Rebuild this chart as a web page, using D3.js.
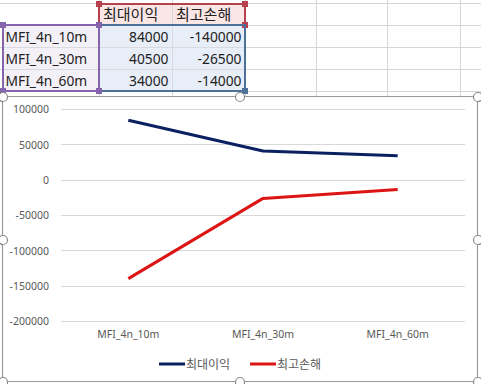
<!DOCTYPE html>
<html><head><meta charset="utf-8">
<script src="https://cdn.jsdelivr.net/npm/d3@7"></script>
<style>
html,body{margin:0;padding:0;background:#fff;}
svg{display:block;}
</style></head>
<body>
<svg id="c" width="481" height="384"></svg>
<script>
const categories = ["MFI_4n_10m", "MFI_4n_30m", "MFI_4n_60m"];
const seriesNames = ["최대이익", "최고손해"];
const maxProfit = [84000, 40500, 34000];
const maxLoss = [-140000, -26500, -14000];
const yTicks = [-200000, -150000, -100000, -50000, 0, 50000, 100000];
const colors = ["#0b2060", "#dc1414"];

const svg = d3.select("#c");
const fontLat = "'Noto Sans', 'Noto Sans CJK KR', sans-serif";
const fontKr = "'Noto Sans CJK KR', 'Noto Sans', sans-serif";

// ---- spreadsheet grid ----
const colX = [0, 99, 172, 245, 316, 387, 460, 481];
const rowY = [-19, 3, 25, 47, 69, 91];
const grid = svg.append("g");
colX.slice(1, -1).forEach(x => grid.append("line").attr("x1", x + 0.5).attr("x2", x + 0.5).attr("y1", 0).attr("y2", 97).attr("stroke", "#d6d6d6"));
rowY.slice(1).forEach(y => grid.append("line").attr("x1", 0).attr("x2", 481).attr("y1", y + 0.5).attr("y2", y + 0.5).attr("stroke", "#d6d6d6"));

// cell fills
svg.append("rect").attr("x", 99).attr("y", 3).attr("width", 146).attr("height", 22).attr("fill", "#fbe6e6");
svg.append("rect").attr("x", 2).attr("y", 25).attr("width", 97).attr("height", 66).attr("fill", "#f4f0f8");
svg.append("rect").attr("x", 99).attr("y", 25).attr("width", 146).attr("height", 66).attr("fill", "#e7eef8");
[172].forEach(x => svg.append("line").attr("x1", x + 0.5).attr("x2", x + 0.5).attr("y1", 3).attr("y2", 91).attr("stroke", "#d9d9e0"));
[47, 69].forEach(y => svg.append("line").attr("x1", 2).attr("x2", 245).attr("y1", y + 0.5).attr("y2", y + 0.5).attr("stroke", "#d9d9e0"));

// header text
seriesNames.forEach((s, i) => {
  svg.append("text").attr("x", 103 + i * 73).attr("y", 20).attr("font-family", fontKr).attr("font-size", 15).attr("fill", "#222").text(s);
});
categories.forEach((c, i) => {
  svg.append("text").attr("x", 5.5).attr("y", 42 + i * 22).attr("font-family", fontLat).attr("font-size", 13.8).attr("fill", "#222").text(c);
  svg.append("text").attr("x", 168.5).attr("y", 42 + i * 22).attr("text-anchor", "end").attr("font-family", fontLat).attr("font-size", 13.8).attr("fill", "#222").text(maxProfit[i]);
  svg.append("text").attr("x", 241.5).attr("y", 42 + i * 22).attr("text-anchor", "end").attr("font-family", fontLat).attr("font-size", 13.8).attr("fill", "#222").text(maxLoss[i]);
});

// range-finder borders
function rangeBox(x, y, w, h, col, corners) {
  svg.append("rect").attr("x", x).attr("y", y).attr("width", w).attr("height", h).attr("fill", "none").attr("stroke", col).attr("stroke-width", 2);
  corners.forEach(([cx, cy]) => svg.append("rect").attr("x", cx - 3).attr("y", cy - 3).attr("width", 6).attr("height", 6).attr("fill", col));
}
rangeBox(99, 4, 146, 21, "#b5414e", [[99, 4], [245, 4], [99, 25], [245, 25]]);
rangeBox(99, 25, 146, 66, "#4d7098", [[245, 91]]);
rangeBox(3, 25, 96, 66, "#8465ad", [[3, 25], [99, 25], [3, 91], [99, 91]]);

// ---- chart ----
const chart = svg.append("g");
chart.append("rect").attr("x", 2.5).attr("y", 96.5).attr("width", 475).attr("height", 285).attr("rx", 3).attr("fill", "#fff").attr("stroke", "#9a9a9a").attr("stroke-width", 1.2);

const x = d3.scaleBand().domain(categories).range([61, 465]);
const y = d3.scaleLinear().domain([-200000, 100000]).range([321, 109]);

chart.append("g").selectAll("line").data(yTicks).join("line")
  .attr("x1", 61).attr("x2", 465)
  .attr("y1", d => Math.round(y(d)) + 0.5).attr("y2", d => Math.round(y(d)) + 0.5)
  .attr("stroke", "#d9d9d9");

const yAxis = d3.axisLeft(y).tickValues(yTicks).tickSize(0).tickPadding(0).tickFormat(d => String(d));
const gy = chart.append("g").attr("transform", "translate(49,0)").call(yAxis);
gy.select(".domain").remove();
gy.selectAll("text").attr("font-family", fontLat).attr("font-size", 10.5).attr("fill", "#595959").attr("dy", "0.35em");

const xAxis = d3.axisBottom(x).tickSize(0).tickPadding(0);
const gx = chart.append("g").attr("transform", "translate(0,331)").call(xAxis);
gx.select(".domain").remove();
gx.selectAll("text").attr("font-family", fontLat).attr("font-size", 10.5).attr("fill", "#595959").attr("dy", "0.71em");

const line = d3.line().x((d, i) => x(categories[i]) + x.bandwidth() / 2).y(d => y(d));
[maxProfit, maxLoss].forEach((s, k) => {
  chart.append("path").datum(s).attr("d", line).attr("fill", "none").attr("stroke", colors[k]).attr("stroke-width", 3).attr("stroke-linejoin", "round");
});

const legX = [159, 250];
seriesNames.forEach((s, k) => {
  chart.append("line").attr("x1", legX[k]).attr("x2", legX[k] + 26).attr("y1", 364).attr("y2", 364).attr("stroke", colors[k]).attr("stroke-width", 3);
  chart.append("text").attr("x", legX[k] + 27).attr("y", 368.5).attr("font-family", fontKr).attr("font-size", 12).attr("fill", "#595959").text(s);
});

[[3, 97], [240, 97], [478, 97], [3, 240], [478, 240], [3, 382], [240, 382], [478, 382]].forEach(([hx, hy]) => {
  svg.append("circle").attr("cx", hx).attr("cy", hy).attr("r", 4.5).attr("fill", "#fff").attr("stroke", "#8a8a8a").attr("stroke-width", 1.2);
});
</script>
</body></html>
